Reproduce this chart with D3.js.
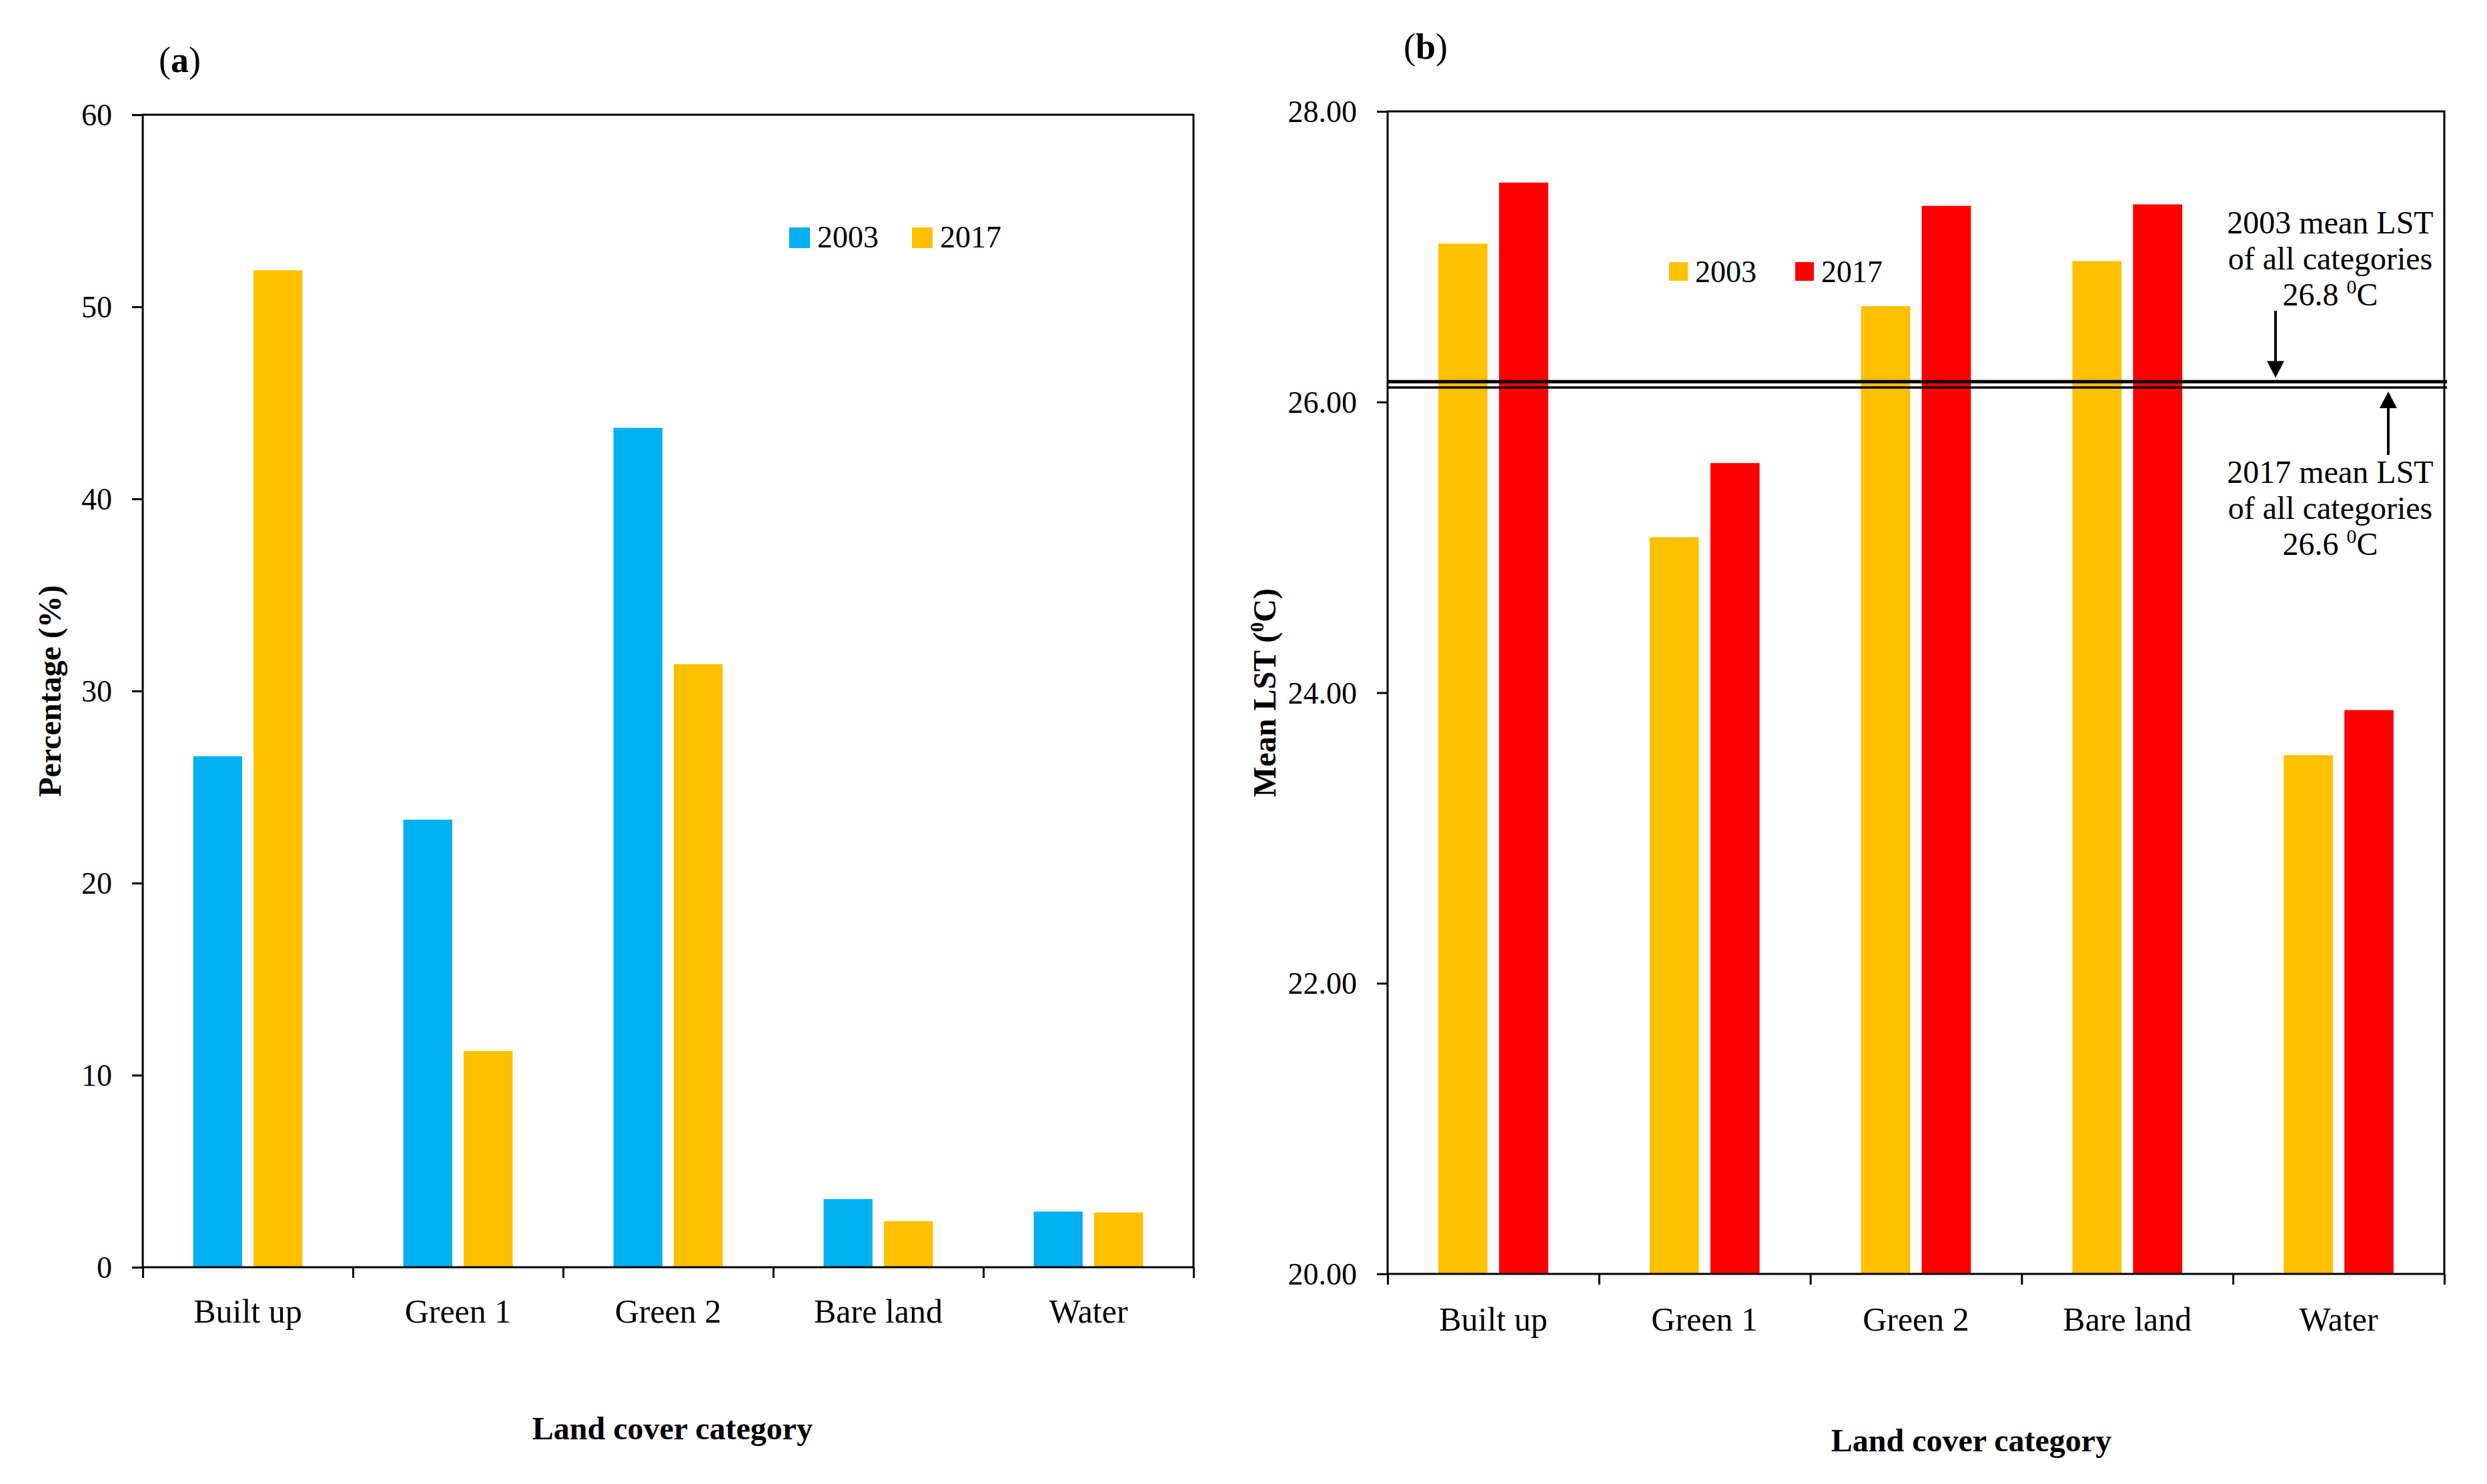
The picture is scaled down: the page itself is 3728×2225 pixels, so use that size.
<!DOCTYPE html>
<html>
<head>
<meta charset="utf-8">
<script src="https://cdn.jsdelivr.net/npm/d3@7"></script>
<style>
  body { margin: 0; background: #fff; }
  text { font-family: "Palatino Linotype", "Book Antiqua", Palatino, "Liberation Serif", serif; fill: #000; }
</style>
</head>
<body>
<div id="chart"></div>
<script>
const categories = ["Built up", "Green 1", "Green 2", "Bare land", "Water"];
const years = ["2003", "2017"];

// panel (a) land cover share, %
const area2003 = [26.6, 23.3, 43.7, 3.55, 2.9];
const area2017 = [51.9, 11.25, 31.4, 2.4, 2.85];
const areaTicks = [0, 10, 20, 30, 40, 50, 60];

// panel (b) mean LST, degrees C
const lst2003 = [27.09, 25.07, 26.66, 26.97, 23.57];
const lst2017 = [27.51, 25.58, 27.35, 27.36, 23.88];
const lstTicks = [20, 22, 24, 26, 28];

// the two mean lines, where they sit in the picture
const meanLines = [26.14, 26.10];

const W = 3728, H = 2225;
const svg = d3.select("#chart").append("svg")
  .attr("width", W).attr("height", H);
svg.append("rect").attr("width", W).attr("height", H).attr("fill", "#fff");

function drawPanel(p) {
  const g = svg.append("g");
  const x = d3.scaleBand().domain(categories).range([p.left, p.right]);
  const xs = d3.scaleBand().domain(years)
    .range([x.bandwidth() * 0.24, x.bandwidth() * 0.76]).paddingInner(0.19);
  const y = d3.scaleLinear().domain(p.domain).range([p.bottom, p.top]);

  const rows = categories.map((c, i) => ({ cat: c, vals: [p.s1[i], p.s2[i]] }));
  g.selectAll("g.grp").data(rows).enter().append("g")
    .attr("transform", d => "translate(" + x(d.cat) + ",0)")
    .selectAll("rect").data(d => d.vals.map((v, j) => ({ year: years[j], v: v })))
    .enter().append("rect")
    .attr("x", d => xs(d.year))
    .attr("width", xs.bandwidth())
    .attr("y", d => y(d.v))
    .attr("height", d => y(p.domain[0]) - y(d.v))
    .attr("fill", (d, j) => p.colors[j]);

  // y axis
  const yAxis = d3.axisLeft(y).tickValues(p.ticks).tickSize(16).tickPadding(30)
    .tickFormat(p.fmt);
  const ya = g.append("g").attr("transform", "translate(" + p.left + ",0)").call(yAxis);
  ya.select(".domain").remove();
  ya.selectAll("line").attr("stroke", "#000").attr("stroke-width", 3);
  ya.selectAll("text").attr("font-size", 46).attr("dy", "0.34em");

  // x axis: ticks on category boundaries, labels in band centres
  const xb = d3.scaleLinear().domain([0, categories.length]).range([p.left, p.right]);
  const xa = g.append("g").attr("transform", "translate(0," + p.bottom + ")")
    .call(d3.axisBottom(xb).tickValues(d3.range(categories.length + 1)).tickSize(16).tickFormat(""));
  xa.select(".domain").remove();
  xa.selectAll("line").attr("stroke", "#000").attr("stroke-width", 3);

  const xl = g.append("g").attr("transform", "translate(0," + p.bottom + ")")
    .call(d3.axisBottom(x).tickSize(0).tickPadding(p.labelPad));
  xl.select(".domain").remove();
  xl.selectAll("text").attr("font-size", 50).attr("dy", 0);

  // frame
  g.append("rect")
    .attr("x", p.left).attr("y", p.top)
    .attr("width", p.right - p.left).attr("height", p.bottom - p.top)
    .attr("fill", "none").attr("stroke", "#000").attr("stroke-width", 3);

  // legend
  const lg = g.append("g");
  years.forEach((yr, j) => {
    lg.append("rect").attr("x", p.legX[j]).attr("y", p.legY - 30)
      .attr("width", p.legSq).attr("height", p.legSq).attr("fill", p.colors[j]);
    lg.append("text").attr("x", p.legX[j] + p.legSq + 11).attr("y", p.legY)
      .attr("font-size", 46).text(yr);
  });

  // panel letter
  const pl = g.append("text").attr("x", p.left + 24).attr("y", p.letterY).attr("font-size", 54);
  pl.append("tspan").text("(");
  pl.append("tspan").attr("font-weight", "bold").text(p.letter);
  pl.append("tspan").text(")");

  // axis titles
  g.append("text").attr("x", p.xTitleX).attr("y", p.xTitleY)
    .attr("text-anchor", "middle").attr("font-size", 48).attr("font-weight", "bold")
    .text("Land cover category");
  const yt = g.append("text")
    .attr("transform", "translate(" + p.yTitleX + "," + (p.top + p.bottom) / 2 + ") rotate(-90)")
    .attr("text-anchor", "middle").attr("font-size", 48).attr("font-weight", "bold");
  p.yTitle(yt);

  return { g: g, x: x, y: y };
}

const a = drawPanel({
  left: 214, right: 1789, top: 172, bottom: 1900,
  domain: [0, 60], ticks: areaTicks, fmt: d3.format("d"),
  s1: area2003, s2: area2017, colors: ["#00B0F0", "#FFC000"],
  labelPad: 83, legX: [1183, 1367], legY: 371, legSq: 31,
  letter: "a", letterY: 108,
  xTitleX: 1008, xTitleY: 2158, yTitleX: 91,
  yTitle: t => t.text("Percentage (%)")
});

const b = drawPanel({
  left: 2080, right: 3664, top: 167, bottom: 1910,
  domain: [20, 28], ticks: lstTicks, fmt: d3.format(".2f"),
  s1: lst2003, s2: lst2017, colors: ["#FFC000", "#FF0000"],
  labelPad: 85, legX: [2502, 2691], legY: 423, legSq: 28,
  letter: "b", letterY: 88,
  xTitleX: 2955, xTitleY: 2176, yTitleX: 1912,
  yTitle: t => {
    t.append("tspan").text("Mean LST (");
    t.append("tspan").attr("font-size", 30).attr("dy", -18).text("0");
    t.append("tspan").attr("dy", 18).text("C)");
  }
});

// mean LST lines with notes
const yb = b.y;
b.g.selectAll("line.mean").data(meanLines).enter().append("line")
  .attr("class", "mean")
  .attr("x1", 2080).attr("x2", 3668)
  .attr("y1", d => yb(d)).attr("y2", d => yb(d))
  .attr("stroke", "#000").attr("stroke-width", (d, i) => i === 0 ? 5 : 3.5);

function arrow(xp, y1, y2) {
  const dir = y2 > y1 ? 1 : -1;
  b.g.append("line").attr("x1", xp).attr("x2", xp).attr("y1", y1).attr("y2", y2 - dir * 22)
    .attr("stroke", "#000").attr("stroke-width", 4);
  b.g.append("path")
    .attr("d", "M" + (xp - 13) + "," + (y2 - dir * 25) + "L" + (xp + 13) + "," + (y2 - dir * 25) + "L" + xp + "," + y2 + "Z")
    .attr("fill", "#000");
}
arrow(3411, 466, yb(meanLines[0]) - 6);
arrow(3580, 682, yb(meanLines[1]) + 6);

function note(lines, yStart) {
  lines.forEach((ln, i) => {
    const t = b.g.append("text").attr("x", 3493).attr("y", yStart + i * 54)
      .attr("text-anchor", "middle").attr("font-size", 48);
    if (ln.sup) {
      t.append("tspan").text(ln.text + " ");
      t.append("tspan").attr("font-size", 30).attr("dy", -18).text("0");
      t.append("tspan").attr("dy", 18).text("C");
    } else {
      t.text(ln.text);
    }
  });
}
note([{ text: "2003 mean LST" }, { text: "of all categories" }, { text: "26.8", sup: true }], 350);
note([{ text: "2017 mean LST" }, { text: "of all categories" }, { text: "26.6", sup: true }], 724);
</script>
</body>
</html>
